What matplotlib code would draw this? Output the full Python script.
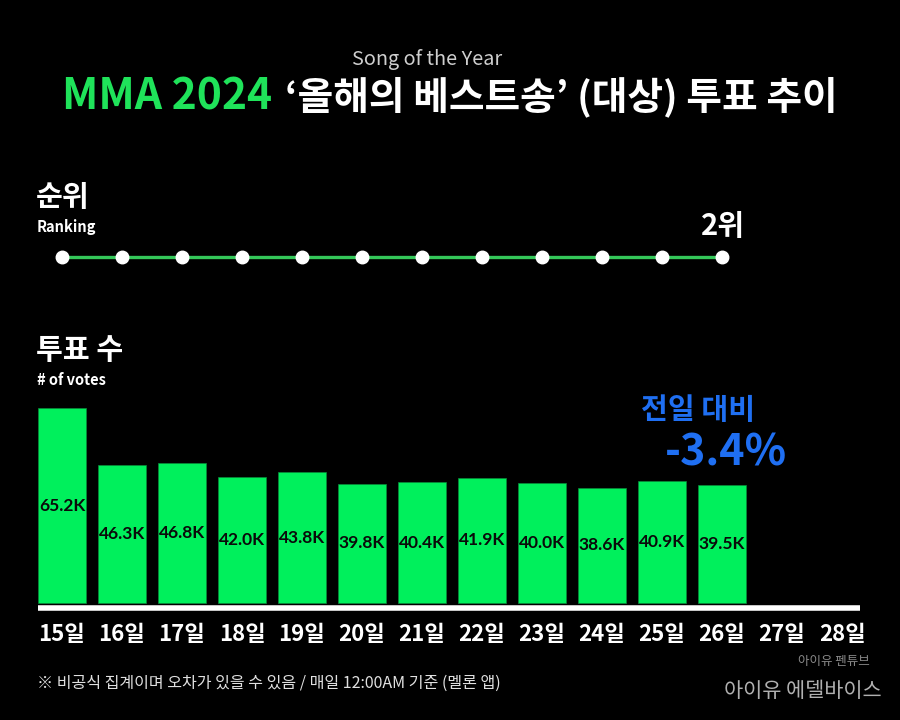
import matplotlib
matplotlib.use("Agg")
import matplotlib.pyplot as plt

plt.rcParams['font.family'] = ['Noto Sans CJK KR', 'DejaVu Sans']

# ---- data ----
days = ['15일', '16일', '17일', '18일', '19일', '20일', '21일',
        '22일', '23일', '24일', '25일', '26일', '27일', '28일']
votes = [65.2, 46.3, 46.8, 42.0, 43.8, 39.8, 40.4, 41.9, 40.0, 38.6, 40.9, 39.5]
vote_labels = ['65.2K', '46.3K', '46.8K', '42.0K', '43.8K', '39.8K', '40.4K',
               '41.9K', '40.0K', '38.6K', '40.9K', '39.5K']
ranks = [2, 2, 2, 2, 2, 2, 2, 2, 2, 2, 2, 2]
change_text = '-3.4%'

BG = '#000000'
GREEN = '#00F05C'
LINE_GREEN = '#34C759'
BLUE = '#1F6FF2'

W, H = 900, 720
fig = plt.figure(figsize=(9, 7.2), dpi=100, facecolor=BG)
renderer = fig.canvas.get_renderer()

def fx(px):
    return px / W

def fy(py):
    return 1 - py / H

def fit_text(t, target_w):
    w = t.get_window_extent(renderer=renderer).width
    t.set_fontsize(t.get_fontsize() * target_w / w)

# ---- bar axes ----
x0_px, x1_px = 32, 872
y_zero_px = 603
ppk = 2.99  # pixels per K
ylo, yhi = -4, 70
bottom_px = y_zero_px - ylo * ppk
top_px = y_zero_px - yhi * ppk
ax = fig.add_axes([fx(x0_px), fy(bottom_px), fx(x1_px - x0_px), (bottom_px - top_px) / H])
ax.set_facecolor(BG)
ax.set_xlim(-0.5, 13.5)
ax.set_ylim(ylo, yhi)
xs = list(range(len(votes)))
ax.bar(xs, votes, width=0.8, color=GREEN, edgecolor='#0a8a3a', linewidth=0.5, zorder=2)
for x, v, lab in zip(xs, votes, vote_labels):
    ax.text(x, v / 2, lab, ha='center', va='center', fontsize=12.5,
            color='#0a0a0a', family=['Lato', 'DejaVu Sans'], fontweight='bold', zorder=3)
# baseline
ax.plot([-0.4, 13.3], [-1.7, -1.7], color='white', linewidth=4, solid_capstyle='butt', zorder=1,
        clip_on=False)
ax.set_xticks(range(len(days)))
ax.set_xticklabels(days, fontsize=16, fontweight='bold', color='white')
ax.tick_params(axis='x', length=0, pad=6)
ax.set_yticks([])
for s in ax.spines.values():
    s.set_visible(False)

# ---- ranking axes ----
rax = fig.add_axes([fx(x0_px), fy(277), fx(x1_px - x0_px), 40 / H])
rax.set_facecolor('none')
rax.set_xlim(-0.5, 13.5)
rax.set_ylim(3, 1)
rx = list(range(len(ranks)))
rax.plot(rx, ranks, color=LINE_GREEN, linewidth=2.4, zorder=1)
rax.plot(rx, ranks, linestyle='none', marker='o', markersize=9, markerfacecolor='white',
         markeredgecolor='white', zorder=2)
rax.annotate(f'{ranks[-1]}위', (rx[-1], ranks[-1]), xytext=(1, 22), textcoords='offset points',
             ha='center', va='center', fontsize=21, fontweight='bold', color='white')
rax.axis('off')

# ---- titles ----
ts = fig.text(fx(427), fy(59), 'Song of the Year', ha='center', va='center', fontsize=13,
              color='#cfcfcf', fontweight='normal')
fit_text(ts, 150)
t1 = fig.text(fx(62), fy(97), 'MMA 2024', ha='left', va='center', fontsize=28,
              fontweight='bold', color='#1FE35A')
fit_text(t1, 210)
t2 = fig.text(fx(838), fy(97), '‘올해의 베스트송’ (대상) 투표 추이', ha='right', va='center',
              fontsize=28, fontweight='bold', color='white')
fit_text(t2, 553)

fig.text(fx(36), fy(197), '순위', ha='left', va='center', fontsize=21, fontweight='bold', color='white')
fig.text(fx(37), fy(227), 'Ranking', ha='left', va='center', fontsize=10.5, fontweight='bold', color='white')
fig.text(fx(36), fy(350), '투표 수', ha='left', va='center', fontsize=21, fontweight='bold', color='white')
fig.text(fx(37), fy(380), '# of votes', ha='left', va='center', fontsize=10.5, fontweight='bold', color='white')

fig.text(fx(698), fy(410), '전일 대비', ha='center', va='center', fontsize=21, fontweight='bold', color=BLUE)
fig.text(fx(726), fy(453), change_text, ha='center', va='center', fontsize=31, fontweight='bold', color=BLUE)

# ---- footer ----
fn = fig.text(fx(37), fy(683), '※ 비공식 집계이며 오차가 있을 수 있음 / 매일 12:00AM 기준 (멜론 앱)',
              ha='left', va='center', fontsize=11, color='#e0e0e0', fontweight='light')
fit_text(fn, 463)
fig.text(fx(870), fy(662), '아이유 펜튜브', ha='right', va='center', fontsize=9, color='#8a8a8a')
fig.text(fx(882), fy(691), '아이유 에델바이스', ha='right', va='center', fontsize=15,
         color='#b0b0b0', fontweight='light')

fig.savefig('out.png', dpi=100, facecolor=BG)
